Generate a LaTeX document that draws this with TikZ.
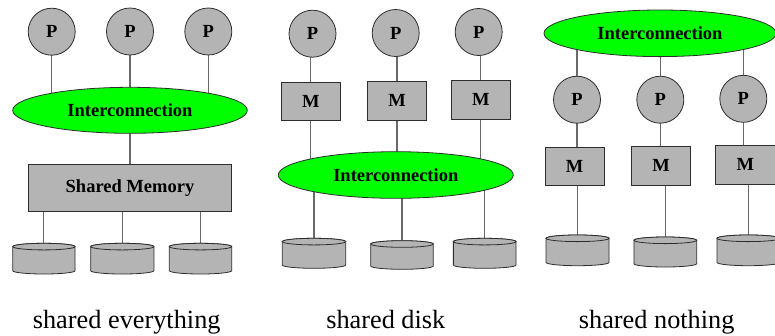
\documentclass[tikz,border=0pt]{standalone}
\usepackage{fontspec}
\setmainfont{Liberation Serif}
\usetikzlibrary{shapes.geometric,backgrounds}
\definecolor{boxgray}{RGB}{180,180,180}
\definecolor{linegray}{RGB}{105,105,105}
\definecolor{edgegray}{RGB}{45,45,45}
\definecolor{netgreen}{RGB}{0,255,0}
\tikzset{
  lbl/.style={font=\bfseries\fontsize{18.5bp}{20bp}\selectfont},
  proc/.style={circle, draw=edgegray, fill=boxgray, line width=0.8bp, minimum size=47bp, inner sep=0pt, lbl},
  mem/.style={rectangle, draw=edgegray, fill=boxgray, line width=0.8bp, inner sep=0pt, lbl},
  net/.style={ellipse, draw=edgegray, fill=netgreen, line width=0.8bp, inner sep=0pt, lbl},
  wire/.style={draw=linegray, line width=1.1bp},
  caption/.style={anchor=base, inner sep=0pt, font=\fontsize{26.3bp}{28bp}\selectfont},
  diskbody/.style={fill=boxgray, draw=edgegray, line width=0.8bp}
}
\newcommand\mydisk[5]{%
  \path[diskbody] ({#2-#5},#3) -- ({#2-#5},#4) arc[start angle=180,end angle=0,x radius=#5,y radius=3.3] -- ({#2+#5},#3) arc[start angle=0,end angle=-180,x radius=#5,y radius=3.3] -- cycle;
  \path[diskbody] (#2,#3) ellipse[x radius=#5, y radius=3.3];
  \coordinate (#1) at (#2,{#3-3.3});
}
\begin{document}
\begin{tikzpicture}[x=1bp,y=-1bp]
\useasboundingbox (0,0) rectangle (775,335);
% ---------- shared everything ----------
\node[proc] (p1) at (51.7,31.7) {P};
\node[proc] (p2) at (130,31.5) {P};
\node[proc] (p3) at (208.3,31.5) {P};
\node[net, minimum width=234.6bp, minimum height=46bp] (ic1) at (130,110.3) {Interconnection};
\node[mem, minimum width=203.4bp, minimum height=47.4bp] (sm) at (130,188) {Shared Memory};
\mydisk{d1}{43.9}{246.6}{270.7}{31.15}
\mydisk{d2}{122.3}{246.6}{270.7}{31.6}
\mydisk{d3}{200.5}{246.6}{270.7}{31.2}
% ---------- shared disk ----------
\node[proc] (p4) at (312.5,33.7) {P};
\node[proc] (p5) at (395.7,33) {P};
\node[proc] (p6) at (478.7,32) {P};
\node[mem, minimum width=58.3bp, minimum height=37.3bp] (m1) at (310.8,101.3) {M};
\node[mem, minimum width=59.4bp, minimum height=38.3bp] (m2) at (397,100.8) {M};
\node[mem, minimum width=59.7bp, minimum height=38.3bp] (m3) at (480.8,99.8) {M};
\node[net, minimum width=235bp, minimum height=46.6bp] (ic2) at (395.8,175) {Interconnection};
\mydisk{d4}{314}{241.6}{265}{31.7}
\mydisk{d5}{402}{244}{266}{31.3}
\mydisk{d6}{484.7}{241.6}{265}{31.35}
% ---------- shared nothing ----------
\node[net, minimum width=232bp, minimum height=46.6bp] (ic3) at (660,33.3) {Interconnection};
\node[proc] (p7) at (577,99.7) {P};
\node[proc] (p8) at (660.3,99.7) {P};
\node[proc] (p9) at (743.3,98.8) {P};
\node[mem, minimum width=59bp, minimum height=37.7bp] (m4) at (574.5,166.2) {M};
\node[mem, minimum width=59bp, minimum height=38.3bp] (m5) at (661.2,165.8) {M};
\node[mem, minimum width=59.3bp, minimum height=38.3bp] (m6) at (745.3,164.8) {M};
\mydisk{d7}{577.5}{238.3}{262.4}{31.5}
\mydisk{d8}{665.3}{240.3}{263.7}{31.35}
\mydisk{d9}{748.5}{238.3}{262.4}{31.5}
% ---------- captions ----------
\node[caption] (c1) at (126.7,328) {shared everything};
\node[caption] (c2) at (385.8,328) {shared disk};
\node[caption] (c3) at (656.7,328) {shared nothing};
% ---------- connectors ----------
\begin{scope}[on background layer]
  \foreach \p in {p1,p2,p3} \draw[wire] (\p.center) -- (\p |- ic1.center);
  \draw[wire] (ic1.center) -- (sm.center);
  \foreach \d in {d1,d2,d3} \draw[wire] (\d |- sm.center) -- (\d);
  \draw[wire] (m1 |- p4.center) -- (m1.center) -- (m1 |- ic2.center);
  \draw[wire] (m2 |- p5.center) -- (m2.center) -- (m2 |- ic2.center);
  \draw[wire] (m3 |- p6.center) -- (m3.center) -- (m3 |- ic2.center);
  \foreach \d in {d4,d5,d6} \draw[wire] (\d |- ic2.center) -- (\d);
  \draw[wire] (p7 |- ic3.center) -- (p7.center) -- (p7 |- m4.center);
  \draw[wire] (p8 |- ic3.center) -- (p8.center) -- (p8 |- m5.center);
  \draw[wire] (p9 |- ic3.center) -- (p9.center) -- (p9 |- m6.center);
  \draw[wire] (d7 |- m4.center) -- (d7);
  \draw[wire] (d8 |- m5.center) -- (d8);
  \draw[wire] (d9 |- m6.center) -- (d9);
\end{scope}
\end{tikzpicture}
\end{document}
